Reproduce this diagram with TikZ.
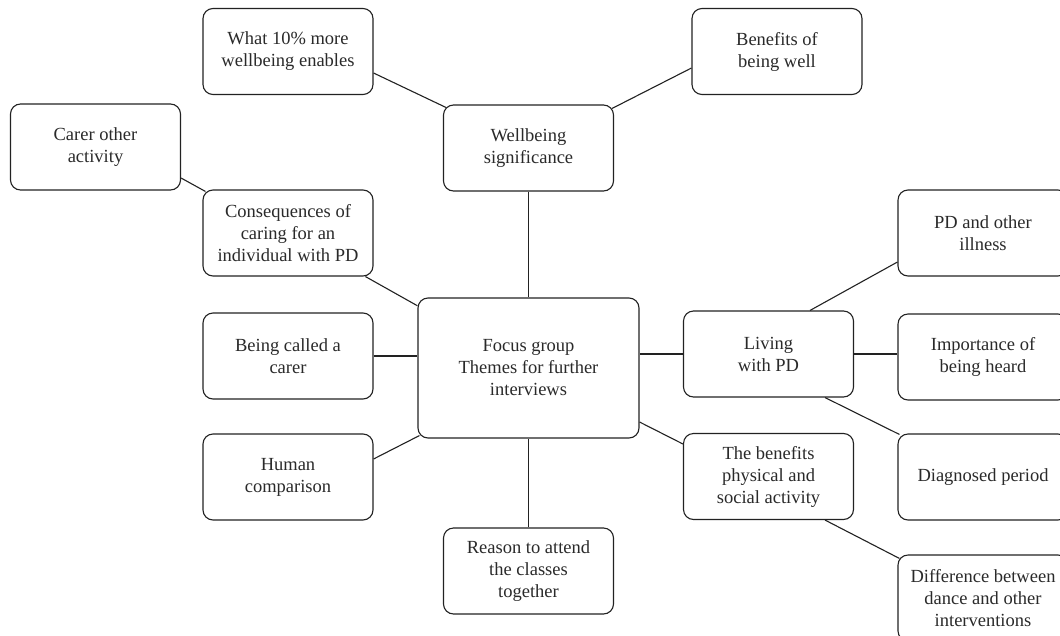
\documentclass[tikz,border=0pt]{standalone}
\usepackage{fontspec}
\setmainfont{Liberation Serif}
\usetikzlibrary{calc}
\definecolor{linec}{HTML}{222222}
\definecolor{textc}{HTML}{2A2A2A}
\tikzset{
  box/.style={draw=linec, line width=1.1pt, rounded corners=10pt, align=center,
    minimum width=170pt, minimum height=86pt, inner sep=0pt, text=textc,
    font=\fontsize{18.5}{22}\selectfont},
  bigbox/.style={box, minimum width=221pt, minimum height=140pt},
  conn/.style={draw=linec, line width=1.1pt}
}
\begin{document}
\begin{tikzpicture}[x=1pt,y=-1pt]
\clip (0,0) rectangle (1060,635);
\fill[white] (0,0) rectangle (1060,635);
\node[bigbox] (focus) at (528.5,368) {Focus group\\Themes for further\\interviews};
\node[box] (w10) at (288,51.5) {What 10\% more\\wellbeing enables};
\node[box] (benefits) at (777,51.5) {Benefits of\\being well};
\node[box] (wsig) at (528.5,148) {Wellbeing\\significance};
\node[box] (carer) at (95.5,147) {Carer other\\activity};
\node[box] (conseq) at (288,233) {Consequences of\\caring for an\\individual with PD};
\node[box] (called) at (288,356) {Being called a\\carer};
\node[box] (human) at (288,477) {Human\\comparison};
\node[box] (reason) at (528.5,571) {Reason to attend\\the classes\\together};
\node[box] (living) at (768.5,354) {Living\\with PD};
\node[box] (physical) at (768.5,476.5) {The benefits\\physical and\\social activity};
\node[box] (pdother) at (983,233) {PD and other\\illness};
\node[box] (importance) at (983,357) {Importance of\\being heard};
\node[box] (diagnosed) at (983,477) {Diagnosed period};
\node[box] (difference) at (983,598) {Difference between\\dance and other\\interventions};

\draw[conn] ($(w10.east)+(0,21.5)$) -- ($(wsig.north west)+(3,3)$);
\draw[conn] ($(wsig.north east)+(-2,4)$) -- ($(benefits.west)+(0,16.5)$);
\draw[conn] ($(carer.east)+(0,31)$) -- ($(conseq.north west)+(3,2)$);
\draw[conn] (conseq) -- (focus);
\draw[conn] (wsig.south) -- (wsig.south |- focus.north);
\draw[conn] (called.east) -- (called.east -| focus.west);
\draw[conn] ($(human.east)+(0,-18)$) -- ($(focus.south west)+(2,-3)$);
\draw[conn] (reason.north) -- (reason.north |- focus.south);
\draw[conn] (living.west) -- (living.west -| focus.east);
\draw[conn] ($(focus.east)+(0,54)$) -- ($(physical.west)+(0,-32.5)$);
\draw[conn] ($(living.north)+(41.5,0)$) -- ($(pdother.west)+(0,29)$);
\draw[conn] (living.east) -- (living.east -| importance.west);
\draw[conn] ($(living.south)+(56.5,0)$) -- ($(diagnosed.north west)+(2,1)$);
\draw[conn] ($(physical.south)+(56.5,0)$) -- ($(difference.north west)+(2,4)$);
\end{tikzpicture}
\end{document}
